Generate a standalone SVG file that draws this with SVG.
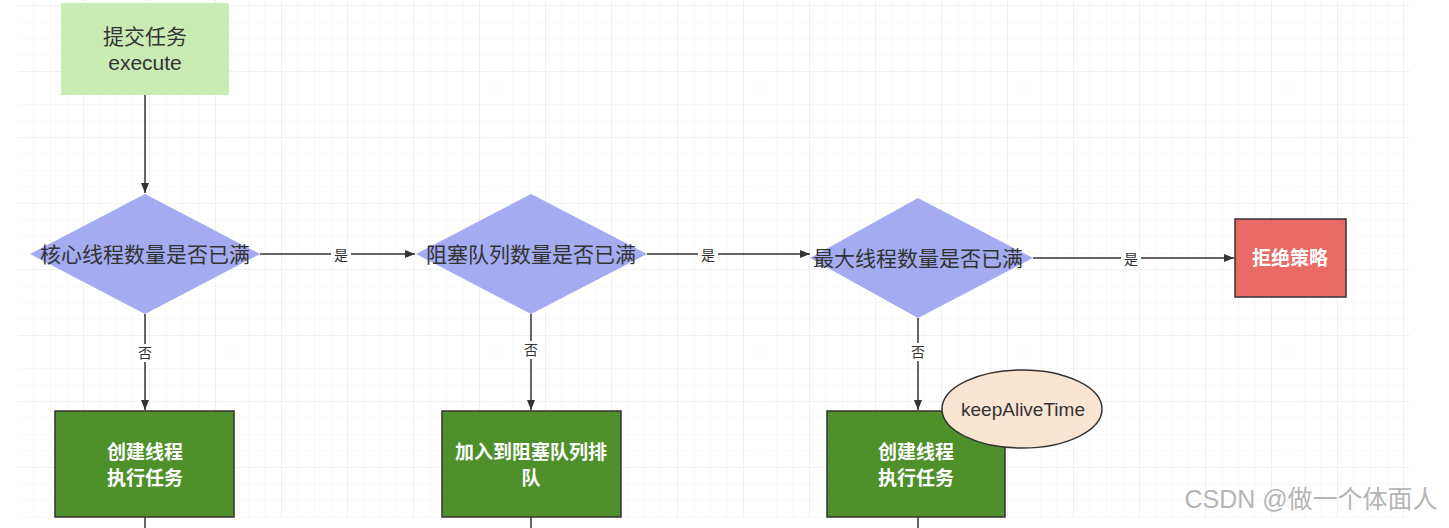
<svg xmlns="http://www.w3.org/2000/svg" width="1449" height="528" viewBox="0 0 1449 528">
<defs>
<pattern id="minor" width="16.5" height="16.5" patternUnits="userSpaceOnUse" x="18" y="6">
<path d="M16.5 0V16.5H0" fill="none" stroke="#f3f3f3" stroke-width="1"/>
</pattern>
<pattern id="major" width="66" height="66" patternUnits="userSpaceOnUse" x="18" y="6">
<path d="M66 0V66H0" fill="none" stroke="#e8e8e8" stroke-width="1"/>
</pattern>
<marker id="arr" viewBox="0 0 10 10" refX="10" refY="5" markerWidth="10" markerHeight="10" markerUnits="userSpaceOnUse" orient="auto">
<path d="M0 1L10 5L0 9Z" fill="#333"/>
</marker>
</defs>
<style>
.t{font-family:"Liberation Sans","Noto Sans CJK SC",sans-serif;text-anchor:middle;}
.dk{fill:#333;font-size:21px;}
.wh{fill:#fff;font-size:19px;font-weight:bold;}
.lbl{fill:#333;font-size:14px;}
.ln{stroke:#333;stroke-width:1.5;fill:none;}
.dia{fill:#a4abf0;}
.grn{fill:#4f902a;stroke:#333;stroke-width:1.5;}
</style>
<rect width="1449" height="528" fill="#fff"/>
<rect x="18" y="0" width="1392" height="518" fill="url(#minor)"/>
<rect x="18" y="0" width="1392" height="518" fill="url(#major)"/>

<g id="connectors">
<line class="ln" x1="145" y1="95" x2="145" y2="193" marker-end="url(#arr)"/>
<line class="ln" x1="260" y1="254" x2="415" y2="254" marker-end="url(#arr)"/>
<line class="ln" x1="647" y1="254" x2="810" y2="254" marker-end="url(#arr)"/>
<line class="ln" x1="1033" y1="258" x2="1234" y2="258" marker-end="url(#arr)"/>
<line class="ln" x1="145" y1="314" x2="145" y2="410" marker-end="url(#arr)"/>
<line class="ln" x1="531" y1="314" x2="531" y2="410" marker-end="url(#arr)"/>
<line class="ln" x1="918" y1="318" x2="918" y2="410" marker-end="url(#arr)"/>
<line class="ln" x1="145" y1="517" x2="145" y2="528"/>
<line class="ln" x1="531" y1="517" x2="531" y2="528"/>
<line class="ln" x1="918" y1="517" x2="918" y2="528"/>
<rect x="331" y="246" width="20" height="17" fill="#fff"/>
<text class="t lbl" x="341" y="260">是</text>
<rect x="698" y="246" width="20" height="17" fill="#fff"/>
<text class="t lbl" x="708" y="260">是</text>
<rect x="1121" y="250" width="20" height="17" fill="#fff"/>
<text class="t lbl" x="1131" y="264">是</text>
<rect x="137" y="344" width="16" height="18" fill="#fff"/>
<text class="t lbl" x="145" y="358">否</text>
<rect x="523" y="341" width="16" height="18" fill="#fff"/>
<text class="t lbl" x="531" y="355">否</text>
<rect x="910" y="343" width="16" height="18" fill="#fff"/>
<text class="t lbl" x="918" y="357">否</text>
</g>

<g id="start">
<rect x="61" y="3" width="168" height="92" fill="#c8ecb4"/>
<text class="t dk" x="145" y="44">提交任务</text>
<text class="t dk" x="145" y="70">execute</text>
</g>

<g id="d1">
<polygon class="dia" points="145,194 260,254 145,314 30,254"/>
<text class="t dk" x="145" y="262">核心线程数量是否已满</text>
</g>

<g id="d2">
<polygon class="dia" points="531,194 647,254 531,314 416,254"/>
<text class="t dk" x="531" y="262">阻塞队列数量是否已满</text>
</g>

<g id="d3">
<polygon class="dia" points="918,198 1033,258 918,318 810,258"/>
<text class="t dk" x="918" y="266">最大线程数量是否已满</text>
</g>

<g id="reject">
<rect x="1235" y="219" width="111" height="78" fill="#ea6b66" stroke="#333" stroke-width="1.5"/>
<text class="t wh" x="1290" y="265">拒绝策略</text>
</g>

<g id="b1">
<rect class="grn" x="55" y="411" width="179" height="106"/>
<text class="t wh" x="145" y="459">创建线程</text>
<text class="t wh" x="145" y="485">执行任务</text>
</g>

<g id="b2">
<rect class="grn" x="442" y="411" width="179" height="106"/>
<text class="t wh" x="531" y="459">加入到阻塞队列排</text>
<text class="t wh" x="531" y="485">队</text>
</g>

<g id="b3">
<rect class="grn" x="827" y="411" width="178" height="106"/>
<text class="t wh" x="916" y="459">创建线程</text>
<text class="t wh" x="916" y="485">执行任务</text>
</g>

<g id="keepalive">
<ellipse cx="1022" cy="409" rx="80" ry="39" fill="#fae5d3" stroke="#333" stroke-width="1.5"/>
<text class="t" x="1023" y="416" style="fill:#333;font-size:19px;">keepAliveTime</text>
</g>

<text class="t" x="1311" y="508" style="fill:#b5b5b5;font-size:25px;">CSDN @做一个体面人</text>
</svg>
